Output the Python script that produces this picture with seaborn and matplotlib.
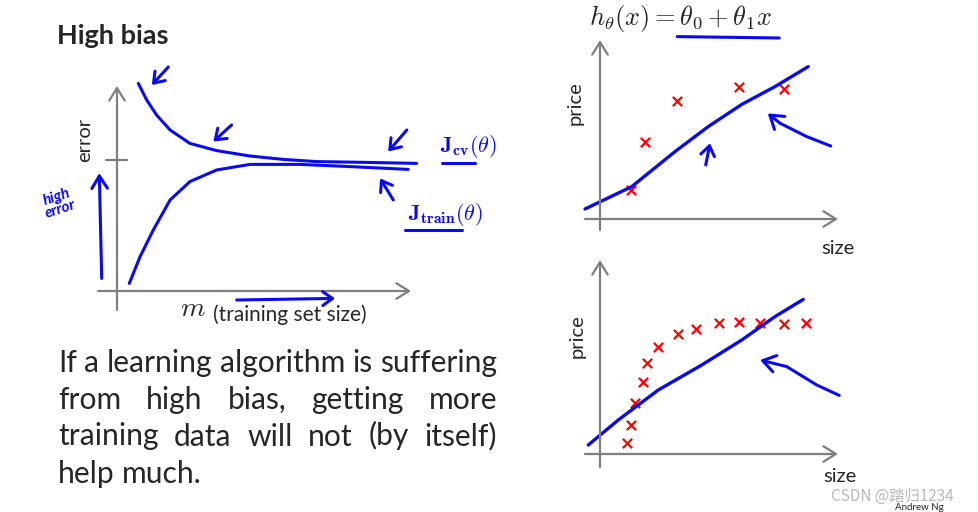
import numpy as np
import pandas as pd
import seaborn as sns
import matplotlib.pyplot as plt

# learning curve (high bias): m vs error
cv_m = [0.71, 0.99, 1.32, 1.77, 2.43, 3.32, 4.43, 5.54, 6.66, 8.32, 9.99]
cv_err = [10.38, 9.55, 8.8, 8.05, 7.38, 7.02, 6.75, 6.58, 6.47, 6.43, 6.38]
train_m = [0.41, 0.77, 1.21, 1.77, 2.43, 3.32, 4.43, 6.1, 7.77, 9.71]
train_err = [0.38, 1.72, 3.05, 4.55, 5.47, 6.05, 6.33, 6.33, 6.22, 6.08]
error_level = 6.55

# top-right: few housing points + straight-line fit
few_size = [1.24, 1.8, 3.08, 5.56, 7.36]
few_price = [1.45, 3.85, 5.9, 6.6, 6.5]
fit1_size = [-0.6, 1.27, 3.0, 4.33, 5.67, 7.0, 8.33]
fit1_price = [0.5, 1.62, 3.37, 4.62, 5.73, 6.62, 7.62]

# bottom-right: many points + straight-line fit
many_size = [1.09, 1.24, 1.4, 1.72, 1.89, 2.32, 3.13, 3.84, 4.76, 5.56, 6.4, 7.37, 8.23]
many_price = [0.53, 1.45, 2.53, 3.58, 4.53, 5.33, 5.98, 6.27, 6.57, 6.62, 6.53, 6.5, 6.57]
fit2_size = [-0.47, 0.73, 2.33, 4.07, 5.67, 7.0, 8.13]
fit2_price = [0.45, 1.7, 3.2, 4.45, 5.7, 6.87, 7.73]

paragraph = ["If a learning algorithm is suffering",
             "from high bias, getting more",
             "training data will not (by itself)",
             "help much."]

BLUE = "#0a0aee"
GRAY = "#7f7f7f"

sns.set_style("white")
plt.rcParams["font.family"] = ["Lato", "DejaVu Sans"]
plt.rcParams["mathtext.fontset"] = "cm"

W, H = 979, 512
fig = plt.figure(figsize=(W / 100, H / 100), dpi=100)


def add_px_axes(left, top, right, bottom):
    return fig.add_axes([left / W, 1 - bottom / H, (right - left) / W, (bottom - top) / H])


def arrow(ax, tail, head, color, lw, hl=0.45, hw=0.28):
    ax.annotate("", xy=head, xytext=tail,
                arrowprops=dict(arrowstyle=f"->,head_length={hl},head_width={hw}",
                                color=color, lw=lw, shrinkA=0, shrinkB=0,
                                mutation_scale=20))


def gray_axes(ax, xlo, xhi, ylo, yhi):
    arrow(ax, (xlo, 0), (xhi, 0), GRAY, 1.6)
    arrow(ax, (0, ylo), (0, yhi), GRAY, 1.6)


# ---- learning curve panel ----
ax1 = add_px_axes(20, 55, 530, 335)
ax1.set_xlim(-3.233, 13.767)
ax1.set_ylim(-2.2, 11.8)
ax1.set_axis_off()
gray_axes(ax1, -0.63, 9.8, -0.95, 10.25)
ax1.plot([-0.35, 0.35], [error_level, error_level], color=GRAY, lw=1.6)
cv = pd.DataFrame({"m": cv_m, "error": cv_err})
tr = pd.DataFrame({"m": train_m, "error": train_err})
sns.lineplot(data=cv, x="m", y="error", sort=False, color=BLUE, lw=2.2, ax=ax1)
sns.lineplot(data=tr, x="m", y="error", sort=False, color=BLUE, lw=2.2, ax=ax1)
ax1.text(-1.07, 7.55, "error", rotation=90, ha="center", va="center", fontsize=14.5)
ax1.text(2.52, -0.85, r"$m$", ha="center", va="center", fontsize=20)
ax1.text(3.21, -1.2, "(training set size)", ha="left", va="center", fontsize=15)

# hand-drawn notes
arrow(ax1, (-0.51, 0.63), (-0.59, 5.9), BLUE, 2.2)
ax1.text(-1.95, 4.4, "high\nerror", color=BLUE, rotation=18, ha="center", va="center",
         fontsize=11, style="italic", fontweight="bold", linespacing=0.9)
arrow(ax1, (1.71, 11.2), (1.16, 10.3), BLUE, 2.2, 0.35, 0.25)
arrow(ax1, (3.82, 8.3), (3.21, 7.47), BLUE, 2.2, 0.35, 0.25)
arrow(ax1, (9.66, 8.05), (9.04, 6.97), BLUE, 2.2, 0.35, 0.25)
arrow(ax1, (9.21, 4.55), (8.77, 5.63), BLUE, 2.2, 0.35, 0.25)
arrow(ax1, (3.99, -0.45), (7.27, -0.37), BLUE, 2.2, 0.35, 0.25)
ax1.text(11.7, 7.25, r"$\mathbf{J_{cv}(\theta)}$", color=BLUE, ha="center", va="center",
         fontsize=16)
ax1.plot([10.82, 11.93], [6.38, 6.38], color=BLUE, lw=2.2)
ax1.text(10.95, 3.85, r"$\mathbf{J_{train}(\theta)}$", color=BLUE, ha="center", va="center",
         fontsize=16)
ax1.plot([9.6, 11.49], [3.05, 3.05], color=BLUE, lw=2.2)

# ---- top right panel ----
ax2 = add_px_axes(555, 0, 900, 260)
ax2.set_xlim(-1.8, 12)
ax2.set_ylim(-2.05, 10.95)
ax2.set_axis_off()
gray_axes(ax2, -0.6, 9.52, -0.55, 8.95)
sns.lineplot(x=fit1_size, y=fit1_price, sort=False, color=BLUE, lw=2.4, ax=ax2)
sns.scatterplot(x=few_size, y=few_price, marker="x", color="red", s=45, linewidth=1.6, ax=ax2)
ax2.text(-1.0, 5.78, "price", rotation=90, ha="center", va="center", fontsize=14.5)
ax2.text(9.53, -1.47, "size", ha="center", va="center", fontsize=14.5)
ax2.text(3.2, 10.0, r"$h_\theta(x) = \theta_0 + \theta_1 x$", ha="center", va="center",
         fontsize=19)
ax2.plot([3.09, 7.17], [9.12, 9.05], color=BLUE, lw=2.2)
arrow(ax2, (4.23, 2.7), (4.4, 3.79), BLUE, 2.2, 0.35, 0.25)
ax2.plot([9.23, 8.27, 7.2], [3.65, 4.12, 4.79], color=BLUE, lw=2.2)
arrow(ax2, (7.2, 4.79), (6.71, 5.28), BLUE, 2.2, 0.45, 0.3)

# ---- bottom right panel ----
ax3 = add_px_axes(555, 255, 900, 495)
ax3.set_xlim(-1.8, 12)
ax3.set_ylim(-2.05, 9.95)
ax3.set_axis_off()
gray_axes(ax3, -0.6, 9.52, -0.65, 9.7)
sns.lineplot(x=fit2_size, y=fit2_price, sort=False, color=BLUE, lw=2.4, ax=ax3)
sns.scatterplot(x=many_size, y=many_price, marker="x", color="red", s=45, linewidth=1.6, ax=ax3)
ax3.text(-0.93, 5.87, "price", rotation=90, ha="center", va="center", fontsize=14.5)
ax3.text(9.6, -1.12, "size", ha="center", va="center", fontsize=14.5)
ax3.plot([9.57, 8.67, 7.47], [2.93, 3.45, 4.37], color=BLUE, lw=2.2)
arrow(ax3, (7.47, 4.37), (6.4, 4.7), BLUE, 2.2, 0.45, 0.3)

# ---- title and justified paragraph ----
fig.text(57 / W, 1 - 43.5 / H, "High bias", fontsize=19.5, fontweight="bold", va="baseline")

renderer = fig.canvas.get_renderer()
left_px, right_px = 58, 497
baselines = [371.7, 408.8, 445.5, 483.3]

# pick a font size so that the first (fullest) line spans the text column
probe = fig.text(0, 0, paragraph[0], fontsize=18)
fs = 18 * (right_px - left_px) / probe.get_window_extent(renderer).width
probe.remove()
probe = fig.text(0, 0, "a a", fontsize=fs)
pair = probe.get_window_extent(renderer).width
probe.remove()
probe = fig.text(0, 0, "aa", fontsize=fs)
space = pair - probe.get_window_extent(renderer).width
probe.remove()

for line, base in zip(paragraph, baselines):
    words = line.split(" ")
    texts = [fig.text(0, 1 - base / H, w, fontsize=fs, va="baseline") for w in words]
    widths = [t.get_window_extent(renderer).width for t in texts]
    if line == paragraph[-1]:
        gap = space
    else:
        gap = (right_px - left_px - sum(widths)) / (len(words) - 1)
    x = left_px
    for t, w in zip(texts, widths):
        t.set_x(x / W)
        x += w + gap

fig.text(831 / W, 1 - 496 / H, "CSDN @踏归1234", fontsize=11, color="#b8b8b8", va="center",
         family=["Noto Sans CJK SC", "DejaVu Sans"])
fig.text(895 / W, 1 - 508 / H, "Andrew Ng", fontsize=7, va="center")

fig.savefig("out.png", dpi=100)
